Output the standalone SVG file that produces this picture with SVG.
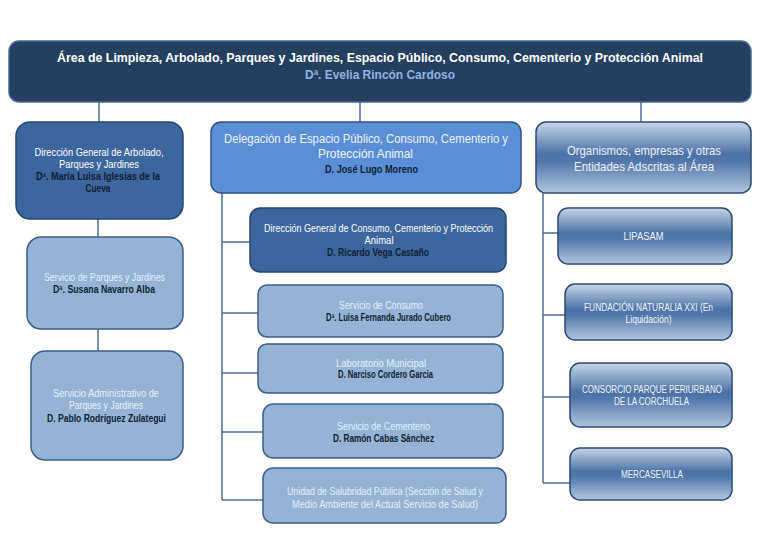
<svg xmlns="http://www.w3.org/2000/svg" width="768" height="548" viewBox="0 0 768 548">
<defs>
<linearGradient id="gr" x1="0" y1="0" x2="0" y2="1">
<stop offset="0" stop-color="#c7d5e8"/>
<stop offset="0.45" stop-color="#4b73a8"/>
<stop offset="0.55" stop-color="#4f77ab"/>
<stop offset="1" stop-color="#b2c5df"/>
</linearGradient>
<style>
text{font-family:"Liberation Sans",Arial,sans-serif;text-anchor:middle;dominant-baseline:central;}
.t{font-size:10px;}
.tl{font-size:12px;}
.w{fill:#ffffff;}
.lt{fill:#e6eef8;}
.nm{fill:#0f1e33;font-weight:bold;}
.dk{fill:#3b679e;stroke:#27466f;stroke-width:1.5;}
.li{fill:#95b3d7;stroke:#3d5d87;stroke-width:1.5;}
.md{fill:#5a8fd6;stroke:#2f5283;stroke-width:1.5;}
.gd{fill:url(#gr);stroke:#2c4a73;stroke-width:1.5;}
.cn{fill:none;stroke:#4d6d98;stroke-width:1.5;}
.g{fill:#f0f4fa;}
</style>
</defs>
<rect width="768" height="548" fill="#ffffff"/>
<g id="connectors">
<path class="cn" d="M99 102V122M360 102V122M641 102V122M98 219V237M98 329V351"/>
<path class="cn" d="M222 193V500M222 242H250M222 313H258M222 373H258M222 432H263M222 500H263"/>
<path class="cn" d="M543 193V483M543 233H558M543 315H565M543 397H570M543 483H570"/>
</g>
<g id="area">
<rect x="9" y="41" width="742" height="61" rx="10" fill="#243f60" stroke="#4a6890" stroke-width="1.5"/>
<text x="380" y="58" class="w" style="font-size:12.5px;font-weight:bold" textLength="646" lengthAdjust="spacingAndGlyphs">Área de Limpieza, Arbolado, Parques y Jardines, Espacio Público, Consumo, Cementerio y Protección Animal</text>
<text x="380" y="75" style="font-size:12px;font-weight:bold;fill:#8db3e2" textLength="150" lengthAdjust="spacingAndGlyphs">Dª. Evelia Rincón Cardoso</text>
</g>
<g id="dg-arbolado">
<rect class="dk" x="16" y="122" width="167" height="97" rx="14"/>
<text x="99" y="152" class="t w" textLength="129" lengthAdjust="spacingAndGlyphs">Dirección General de Arbolado,</text>
<text x="99" y="164" class="t w" textLength="80" lengthAdjust="spacingAndGlyphs">Parques y Jardines</text>
<text x="98" y="176" class="t nm" textLength="124" lengthAdjust="spacingAndGlyphs">Dª. María Luisa Iglesias de la</text>
<text x="98" y="188" class="t nm" textLength="25" lengthAdjust="spacingAndGlyphs">Cueva</text>
</g>
<g id="serv-parques">
<rect class="li" x="27" y="237" width="156" height="92" rx="14"/>
<text x="104.5" y="277" class="t lt" textLength="121" lengthAdjust="spacingAndGlyphs">Servicio de Parques y Jardines</text>
<text x="104" y="289.5" class="t nm" textLength="102" lengthAdjust="spacingAndGlyphs">Dª. Susana Navarro Alba</text>
</g>
<g id="serv-admin">
<rect class="li" x="31" y="351" width="152" height="109" rx="14"/>
<text x="106" y="393" class="t lt" textLength="106" lengthAdjust="spacingAndGlyphs">Servicio Administrativo de</text>
<text x="106" y="405.5" class="t lt" textLength="74" lengthAdjust="spacingAndGlyphs">Parques y Jardines</text>
<text x="106.5" y="418" class="t nm" textLength="119" lengthAdjust="spacingAndGlyphs">D. Pablo Rodríguez Zulategui</text>
</g>
<g id="delegacion">
<rect class="md" x="211" y="122" width="310" height="71" rx="10"/>
<text x="366" y="139" class="tl" style="fill:#eef3fa" textLength="284" lengthAdjust="spacingAndGlyphs">Delegación de Espacio Público, Consumo, Cementerio y</text>
<text x="365.5" y="154" class="tl" style="fill:#eef3fa" textLength="95" lengthAdjust="spacingAndGlyphs">Protección Animal</text>
<text x="371.5" y="169" class="nm" style="font-size:11.5px" textLength="93" lengthAdjust="spacingAndGlyphs">D. José Lugo Moreno</text>
</g>
<g id="dg-consumo">
<rect class="dk" x="250" y="208" width="256" height="64" rx="10"/>
<text x="378.5" y="228" class="t w" textLength="229" lengthAdjust="spacingAndGlyphs">Dirección General de Consumo, Cementerio y Protección</text>
<text x="379" y="240" class="t w" textLength="29" lengthAdjust="spacingAndGlyphs">Animal</text>
<text x="378" y="252" class="t nm" textLength="102" lengthAdjust="spacingAndGlyphs">D. Ricardo Vega Castaño</text>
</g>
<g id="serv-consumo">
<rect class="li" x="258" y="285" width="245" height="52" rx="9"/>
<text x="381" y="305" class="t lt" textLength="84" lengthAdjust="spacingAndGlyphs">Servicio de Consumo</text>
<text x="388.5" y="317" class="t nm" textLength="125" lengthAdjust="spacingAndGlyphs">Dª. Luisa Fernanda Jurado Cubero</text>
</g>
<g id="laboratorio">
<rect class="li" x="258" y="344" width="245" height="49" rx="9"/>
<text x="381" y="363" class="t lt" textLength="90" lengthAdjust="spacingAndGlyphs">Laboratorio Municipal</text>
<text x="385.5" y="374.5" class="t nm" textLength="95" lengthAdjust="spacingAndGlyphs">D. Narciso Cordero Garcia</text>
</g>
<g id="serv-cementerio">
<rect class="li" x="263" y="404" width="240" height="54" rx="10"/>
<text x="383.5" y="426" class="t lt" textLength="93" lengthAdjust="spacingAndGlyphs">Servicio de Cementerio</text>
<text x="383.5" y="438" class="t nm" textLength="101" lengthAdjust="spacingAndGlyphs">D. Ramón Cabas Sánchez</text>
</g>
<g id="salubridad">
<rect class="li" x="263" y="468" width="243" height="55" rx="10"/>
<text x="385" y="491" class="t lt" textLength="196" lengthAdjust="spacingAndGlyphs">Unidad de Salubridad Pública (Sección de Salud y</text>
<text x="385" y="504" class="t lt" textLength="186" lengthAdjust="spacingAndGlyphs">Medio Ambiente del Actual Servicio de Salud)</text>
</g>
<g id="organismos">
<rect class="gd" x="536" y="122" width="215" height="71" rx="10"/>
<text x="644" y="151" class="tl" style="fill:#eef3fa" textLength="154" lengthAdjust="spacingAndGlyphs">Organismos, empresas y otras</text>
<text x="644" y="166.5" class="tl" style="fill:#eef3fa" textLength="140" lengthAdjust="spacingAndGlyphs">Entidades Adscritas al Área</text>
</g>
<g id="lipasam">
<rect class="gd" x="558" y="208" width="174" height="56" rx="10"/>
<text x="643.5" y="236.5" class="t g" textLength="40" lengthAdjust="spacingAndGlyphs">LIPASAM</text>
</g>
<g id="naturalia">
<rect class="gd" x="565" y="284" width="167" height="56" rx="10"/>
<text x="648.5" y="307.5" class="t g" textLength="129" lengthAdjust="spacingAndGlyphs">FUNDACIÓN NATURALIA XXI (En</text>
<text x="648.5" y="319" class="t g" textLength="46" lengthAdjust="spacingAndGlyphs">Liquidación)</text>
</g>
<g id="corchuela">
<rect class="gd" x="570" y="363" width="162" height="64" rx="10"/>
<text x="652" y="389" class="t g" textLength="140" lengthAdjust="spacingAndGlyphs">CONSORCIO PARQUE PERIURBANO</text>
<text x="651.5" y="401.5" class="t g" textLength="75" lengthAdjust="spacingAndGlyphs">DE LA CORCHUELA</text>
</g>
<g id="mercasevilla">
<rect class="gd" x="570" y="448" width="162" height="52" rx="10"/>
<text x="652" y="474" class="t g" textLength="62" lengthAdjust="spacingAndGlyphs">MERCASEVILLA</text>
</g>
</svg>
